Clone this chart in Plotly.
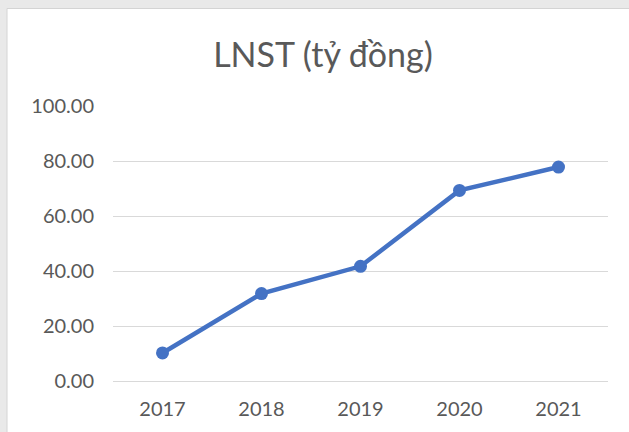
import plotly.graph_objects as go

years = ["2017", "2018", "2019", "2020", "2021"]
lnst = [10.2, 31.8, 41.7, 69.3, 77.8]
y_ticks = [0, 20, 40, 60, 80, 100]
y_tick_labels = ["0.00", "20.00", "40.00", "60.00", "80.00", "100.00"]

W, H = 629, 432
ml, mr, mt, mb = 113, 21, 106, 51

fig = go.Figure()
fig.add_trace(go.Scatter(
    x=years, y=lnst, mode="lines+markers",
    line=dict(color="#4472C4", width=4.5),
    marker=dict(color="#4472C4", size=13),
    hoverinfo="skip",
))

pw, ph = W - ml - mr, H - mt - mb
def px2x(p):
    return (p - ml) / pw
def py2y(p):
    return (H - mb - p) / ph

fig.add_shape(type="rect", xref="paper", yref="paper",
              x0=px2x(7), x1=px2x(W + 5), y0=py2y(H + 5), y1=py2y(8.5),
              fillcolor="white", line=dict(color="#d4d4d4", width=1), layer="below")

fig.update_layout(
    width=W, height=H,
    margin=dict(l=ml, r=mr, t=mt, b=mb),
    paper_bgcolor="#e9e9e9",
    plot_bgcolor="white",
    showlegend=False,
    title=dict(text="LNST (tỷ đồng)", x=323 / W, xanchor="center",
               y=1 - 55 / H, yanchor="middle",
               font=dict(family="Lato", size=34, color="#595959")),
    font=dict(family="Lato", color="#595959"),
)
fig.update_xaxes(type="category", range=[-0.5, len(years) - 0.5],
                 showgrid=False, showline=False, zeroline=False,
                 ticks="", tickfont=dict(size=20, color="#595959"),
                 ticklabelstandoff=14)
fig.update_yaxes(range=[0, 100], tickvals=y_ticks, ticktext=y_tick_labels,
                 showgrid=True, gridcolor="#d9d9d9", gridwidth=1.3,
                 zeroline=True, zerolinecolor="#d9d9d9", zerolinewidth=1.3,
                 showline=False, ticks="",
                 tickfont=dict(size=20, color="#595959"), ticklabelstandoff=18)

fig.write_html("out.html", config={"displayModeBar": False},
               post_script="document.body.style.margin='0';document.body.style.padding='0';document.body.style.overflow='hidden';")
